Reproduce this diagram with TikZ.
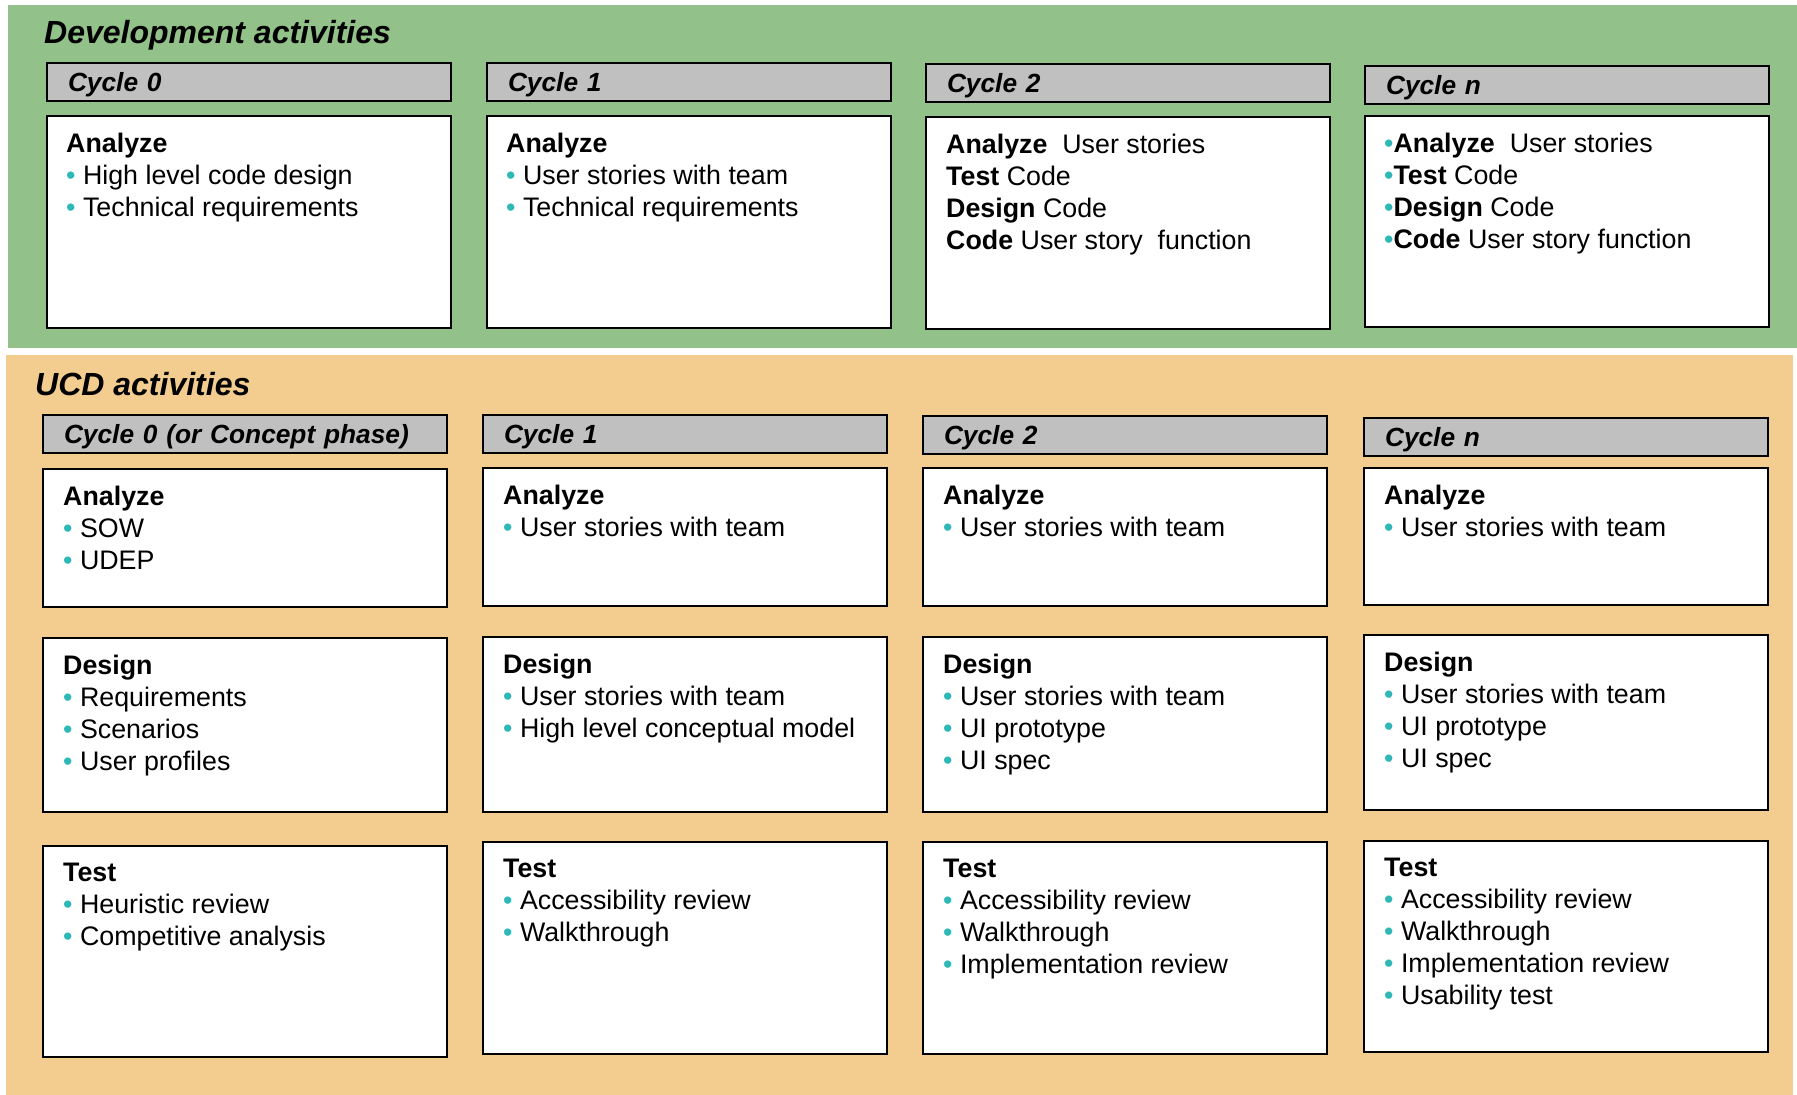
\documentclass[tikz,border=0pt]{standalone}
\usepackage{fontspec}
\setmainfont{Liberation Sans}
\usepackage{xcolor}
\usetikzlibrary{positioning}
\definecolor{devgreen}{HTML}{93C18A}
\definecolor{ucdorange}{HTML}{F3CC8F}
\definecolor{headgray}{HTML}{C0C0C0}
\definecolor{bulletteal}{HTML}{2EB8B8}
\newcommand{\actbul}{{\color{bulletteal}\textbullet}}
\newcommand{\actitem}[1]{\actbul\ #1}
\tikzset{
      cyclehead/.style = {draw, line width=2pt, fill=headgray, anchor=north west,
                          minimum width=404pt, minimum height=38pt, text width=362pt,
                          inner xsep=21pt, text height=19pt, text depth=0pt, align=left,
                          font=\fontsize{26.3}{32}\selectfont\bfseries\itshape},
      actbox/.style = {draw, line width=2pt, fill=white, minimum width=404pt, inner sep=0pt},
      acttext/.style = {align=left, inner sep=0pt, font=\fontsize{26.8}{32}\selectfont},
      paneltitle/.style = {anchor=base west, inner sep=0pt, font=\fontsize{32}{38}\selectfont\bfseries\itshape},
    }

\begin{document}
\begin{tikzpicture}[x=1pt,y=-1pt]
        \useasboundingbox (0,0) rectangle (1797,1095);
        \fill[devgreen] (8,5) rectangle (1797,348);
        \fill[ucdorange] (6,355) rectangle (1793,1095);

        \node[paneltitle] (devtitle) at (44,43) {Development activities};
        \node[cyclehead] (dh0) at (46,62) {Cycle 0};
        \node[cyclehead] (dh1) at (486,62) {Cycle 1};
        \node[cyclehead] (dh2) at (925,63) {Cycle 2};
        \node[cyclehead] (dhn) at (1364,65) {Cycle n};

        \node[actbox, minimum height=212pt, below=13pt of dh0] (d0) {};
        \node[actbox, minimum height=212pt, below=13pt of dh1] (d1) {};
        \node[actbox, minimum height=212pt, below=13pt of dh2] (d2) {};
        \node[actbox, minimum height=211pt, below=10pt of dhn] (dn) {};
        \node[acttext, below right=18pt and 20pt of d0.north west] (d0t)
            {\textbf{Analyze}\\ \actitem{High level code design}\\ \actitem{Technical requirements}};
        \node[acttext, below right=18pt and 20pt of d1.north west] (d1t)
            {\textbf{Analyze}\\ \actitem{User stories with team}\\ \actitem{Technical requirements}};
        \node[acttext, below right=18pt and 21pt of d2.north west] (d2t)
            {\textbf{Analyze}\ \ User stories\\ \textbf{Test} Code\\ \textbf{Design} Code\\ \textbf{Code} User story\ \ function};
        \node[acttext, below right=18pt and 20pt of dn.north west] (dnt)
            {\actbul\textbf{Analyze}\ \ User stories\\ \actbul\textbf{Test} Code\\ \actbul\textbf{Design} Code\\ \actbul\textbf{Code} User story function};

        \node[paneltitle] (ucdtitle) at (35,395) {UCD activities};
        \node[cyclehead] (uh0) at (42,414) {Cycle 0 (or Concept phase)};
        \node[cyclehead] (uh1) at (482,414) {Cycle 1};
        \node[cyclehead] (uh2) at (922,415) {Cycle 2};
        \node[cyclehead] (uhn) at (1363,417) {Cycle n};

        \node[actbox, minimum height=138pt, below=14pt of uh0] (ua0) {};
        \node[actbox, minimum height=138pt, below=13pt of uh1] (ua1) {};
        \node[actbox, minimum height=138pt, below=12pt of uh2] (ua2) {};
        \node[actbox, minimum height=137pt, below=10pt of uhn] (uan) {};
        \node[acttext, below right=18pt and 21pt of ua0.north west] (ua0t)
            {\textbf{Analyze}\\ \actitem{SOW}\\ \actitem{UDEP}};
        \node[acttext, below right=18pt and 21pt of ua1.north west] (ua1t)
            {\textbf{Analyze}\\ \actitem{User stories with team}};
        \node[acttext, below right=18pt and 21pt of ua2.north west] (ua2t)
            {\textbf{Analyze}\\ \actitem{User stories with team}};
        \node[acttext, below right=18pt and 21pt of uan.north west] (uant)
            {\textbf{Analyze}\\ \actitem{User stories with team}};

        \node[actbox, minimum height=174pt, below=29pt of ua0] (ud0) {};
        \node[actbox, minimum height=175pt, below=29pt of ua1] (ud1) {};
        \node[actbox, minimum height=175pt, below=29pt of ua2] (ud2) {};
        \node[actbox, minimum height=175pt, below=28pt of uan] (udn) {};
        \node[acttext, below right=18pt and 21pt of ud0.north west] (ud0t)
            {\textbf{Design}\\ \actitem{Requirements}\\ \actitem{Scenarios}\\ \actitem{User profiles}};
        \node[acttext, below right=18pt and 21pt of ud1.north west] (ud1t)
            {\textbf{Design}\\ \actitem{User stories with team}\\ \actitem{High level conceptual model}};
        \node[acttext, below right=18pt and 21pt of ud2.north west] (ud2t)
            {\textbf{Design}\\ \actitem{User stories with team}\\ \actitem{UI prototype}\\ \actitem{UI spec}};
        \node[acttext, below right=18pt and 21pt of udn.north west] (udnt)
            {\textbf{Design}\\ \actitem{User stories with team}\\ \actitem{UI prototype}\\ \actitem{UI spec}};

        \node[actbox, minimum height=211pt, below=32pt of ud0] (ut0) {};
        \node[actbox, minimum height=212pt, below=28pt of ud1] (ut1) {};
        \node[actbox, minimum height=212pt, below=28pt of ud2] (ut2) {};
        \node[actbox, minimum height=211pt, below=29pt of udn] (utn) {};
        \node[acttext, below right=18pt and 21pt of ut0.north west] (ut0t)
            {\textbf{Test}\\ \actitem{Heuristic review}\\ \actitem{Competitive analysis}};
        \node[acttext, below right=18pt and 21pt of ut1.north west] (ut1t)
            {\textbf{Test}\\ \actitem{Accessibility review}\\ \actitem{Walkthrough}};
        \node[acttext, below right=18pt and 21pt of ut2.north west] (ut2t)
            {\textbf{Test}\\ \actitem{Accessibility review}\\ \actitem{Walkthrough}\\ \actitem{Implementation review}};
        \node[acttext, below right=18pt and 21pt of utn.north west] (utnt)
            {\textbf{Test}\\ \actitem{Accessibility review}\\ \actitem{Walkthrough}\\ \actitem{Implementation review}\\ \actitem{Usability test}};
\end{tikzpicture}
\end{document}
